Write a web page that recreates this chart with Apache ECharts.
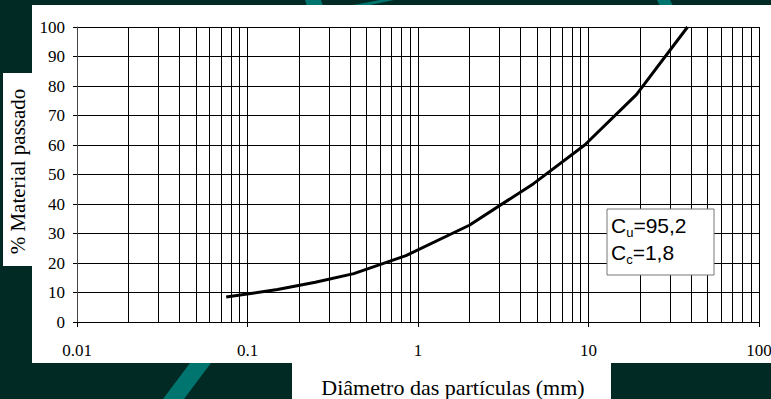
<!DOCTYPE html>
<html>
<head>
<meta charset="utf-8">
<script src="https://cdn.jsdelivr.net/npm/echarts@6/dist/echarts.min.js"></script>
<style>
html,body{margin:0;padding:0;background:#022a25;}
#c{width:771px;height:399px;}
</style>
</head>
<body>
<div id="c"></div>
<script>
// Particle size (mm) and % passing
const sizes = [0.075, 0.15, 0.25, 0.42, 0.85, 2.0, 4.76, 9.5, 19.1, 38.1];
const passing = [8.5, 11.0, 13.5, 16.4, 22.5, 32.8, 46.9, 60.0, 77.1, 100];
// Log-axis minor grid positions
const minorGrid = [0.02,0.03,0.04,0.05,0.06,0.07,0.08,0.09,
                   0.2,0.3,0.4,0.5,0.6,0.7,0.8,0.9,
                   2,3,4,5,6,7,8,9,
                   20,30,40,50,60,70,80,90];
const yTicks = [0,10,20,30,40,50,60,70,80,90,100];
const xTitle = 'Diâmetro das partículas (mm)';
const yTitle = '% Material passado';
const cuText = '95,2';
const ccText = '1,8';

const chart = echarts.init(document.getElementById('c'), null, {renderer:'svg'});
const serif = 'Liberation Serif';
const sans = 'Liberation Sans';
const teal = '#00746e';

chart.setOption({
  animation:false,
  backgroundColor:'#022a25',
  textStyle:{fontFamily:serif},
  grid:{left:77,right:12,top:27,bottom:77,containLabel:false,outerBoundsMode:'none'},
  xAxis:{
    type:'log', logBase:10, min:0.01, max:100,
    name:xTitle, nameLocation:'middle', nameGap:54,
    nameTextStyle:{fontFamily:serif,fontSize:22,color:'#000',padding:[0,0,0,70]},
    axisLine:{show:true,lineStyle:{color:'#000',width:1}},
    axisTick:{show:true,length:5,lineStyle:{color:'#000'}},
    axisLabel:{fontFamily:serif,fontSize:17,color:'#000',margin:20,
      formatter:function(v){ return String(+(+v).toPrecision(6)); }},
    splitLine:{show:true,lineStyle:{color:'#000',width:1}}
  },
  yAxis:{
    type:'value', min:0, max:100, interval:10,
    name:yTitle, nameLocation:'middle', nameGap:48, nameRotate:90,
    nameTextStyle:{fontFamily:serif,fontSize:21,color:'#000',padding:[0,0,0,6]},
    axisLine:{show:true,lineStyle:{color:'#444',width:1}},
    axisTick:{show:true,length:4,lineStyle:{color:'#000'}},
    axisLabel:{fontFamily:serif,fontSize:17,color:'#000',margin:12,
      formatter:function(v){ return yTicks.indexOf(v)>=0 ? String(v) : ''; }},
    splitLine:{show:true,lineStyle:{color:'#000',width:1}}
  },
  series:[{
    type:'line',
    data:sizes.map((s,i)=>[s,passing[i]]),
    symbol:'none',
    lineStyle:{color:'#000',width:3},
    z:5,
    markLine:{
      silent:true, symbol:'none', animation:false,
      label:{show:false},
      lineStyle:{color:'#000',width:1,type:'solid'},
      emphasis:{disabled:true},
      data:minorGrid.map(v=>({xAxis:v}))
    }
  }],
  graphic:[
    {type:'polygon',z:-20,silent:true,shape:{points:[[190,363],[211,363],[184,399],[163,399]]},style:{fill:teal}},
    {type:'polygon',z:-20,silent:true,shape:{points:[[305,0],[321,0],[323,6],[307,6]]},style:{fill:teal}},
    {type:'polygon',z:-20,silent:true,shape:{points:[[380,0],[394,0],[365,6],[348,6]]},style:{fill:teal}},
    {type:'polygon',z:-20,silent:true,shape:{points:[[657,0],[670,0],[673,6],[660,6]]},style:{fill:teal}},
    {type:'rect',z:-10,silent:true,shape:{x:32,y:5,width:739,height:358},style:{fill:'#fff'}},
    {type:'rect',z:-10,silent:true,shape:{x:3,y:73,width:40,height:193},style:{fill:'#fff'}},
    {type:'rect',z:-10,silent:true,shape:{x:292,y:360,width:319,height:39},style:{fill:'#fff'}},
    {type:'group',z:100,children:[
      {type:'rect',z:100,shape:{x:607,y:209,width:107,height:66},style:{fill:'#fff',stroke:'#777',lineWidth:1}},
      {type:'text',z:101,x:611,y:212,style:{
        text:'{n|C}{s|u}{n|='+cuText+'}\n{n|C}{s|c}{n|='+ccText+'}',
        fill:'#000',
        rich:{
          n:{fontFamily:sans,fontSize:21,lineHeight:27,fill:'#000'},
          s:{fontFamily:sans,fontSize:13,lineHeight:27,fill:'#000',verticalAlign:'bottom'}
        }
      }}
    ]}
  ]
});
</script>
</body>
</html>
